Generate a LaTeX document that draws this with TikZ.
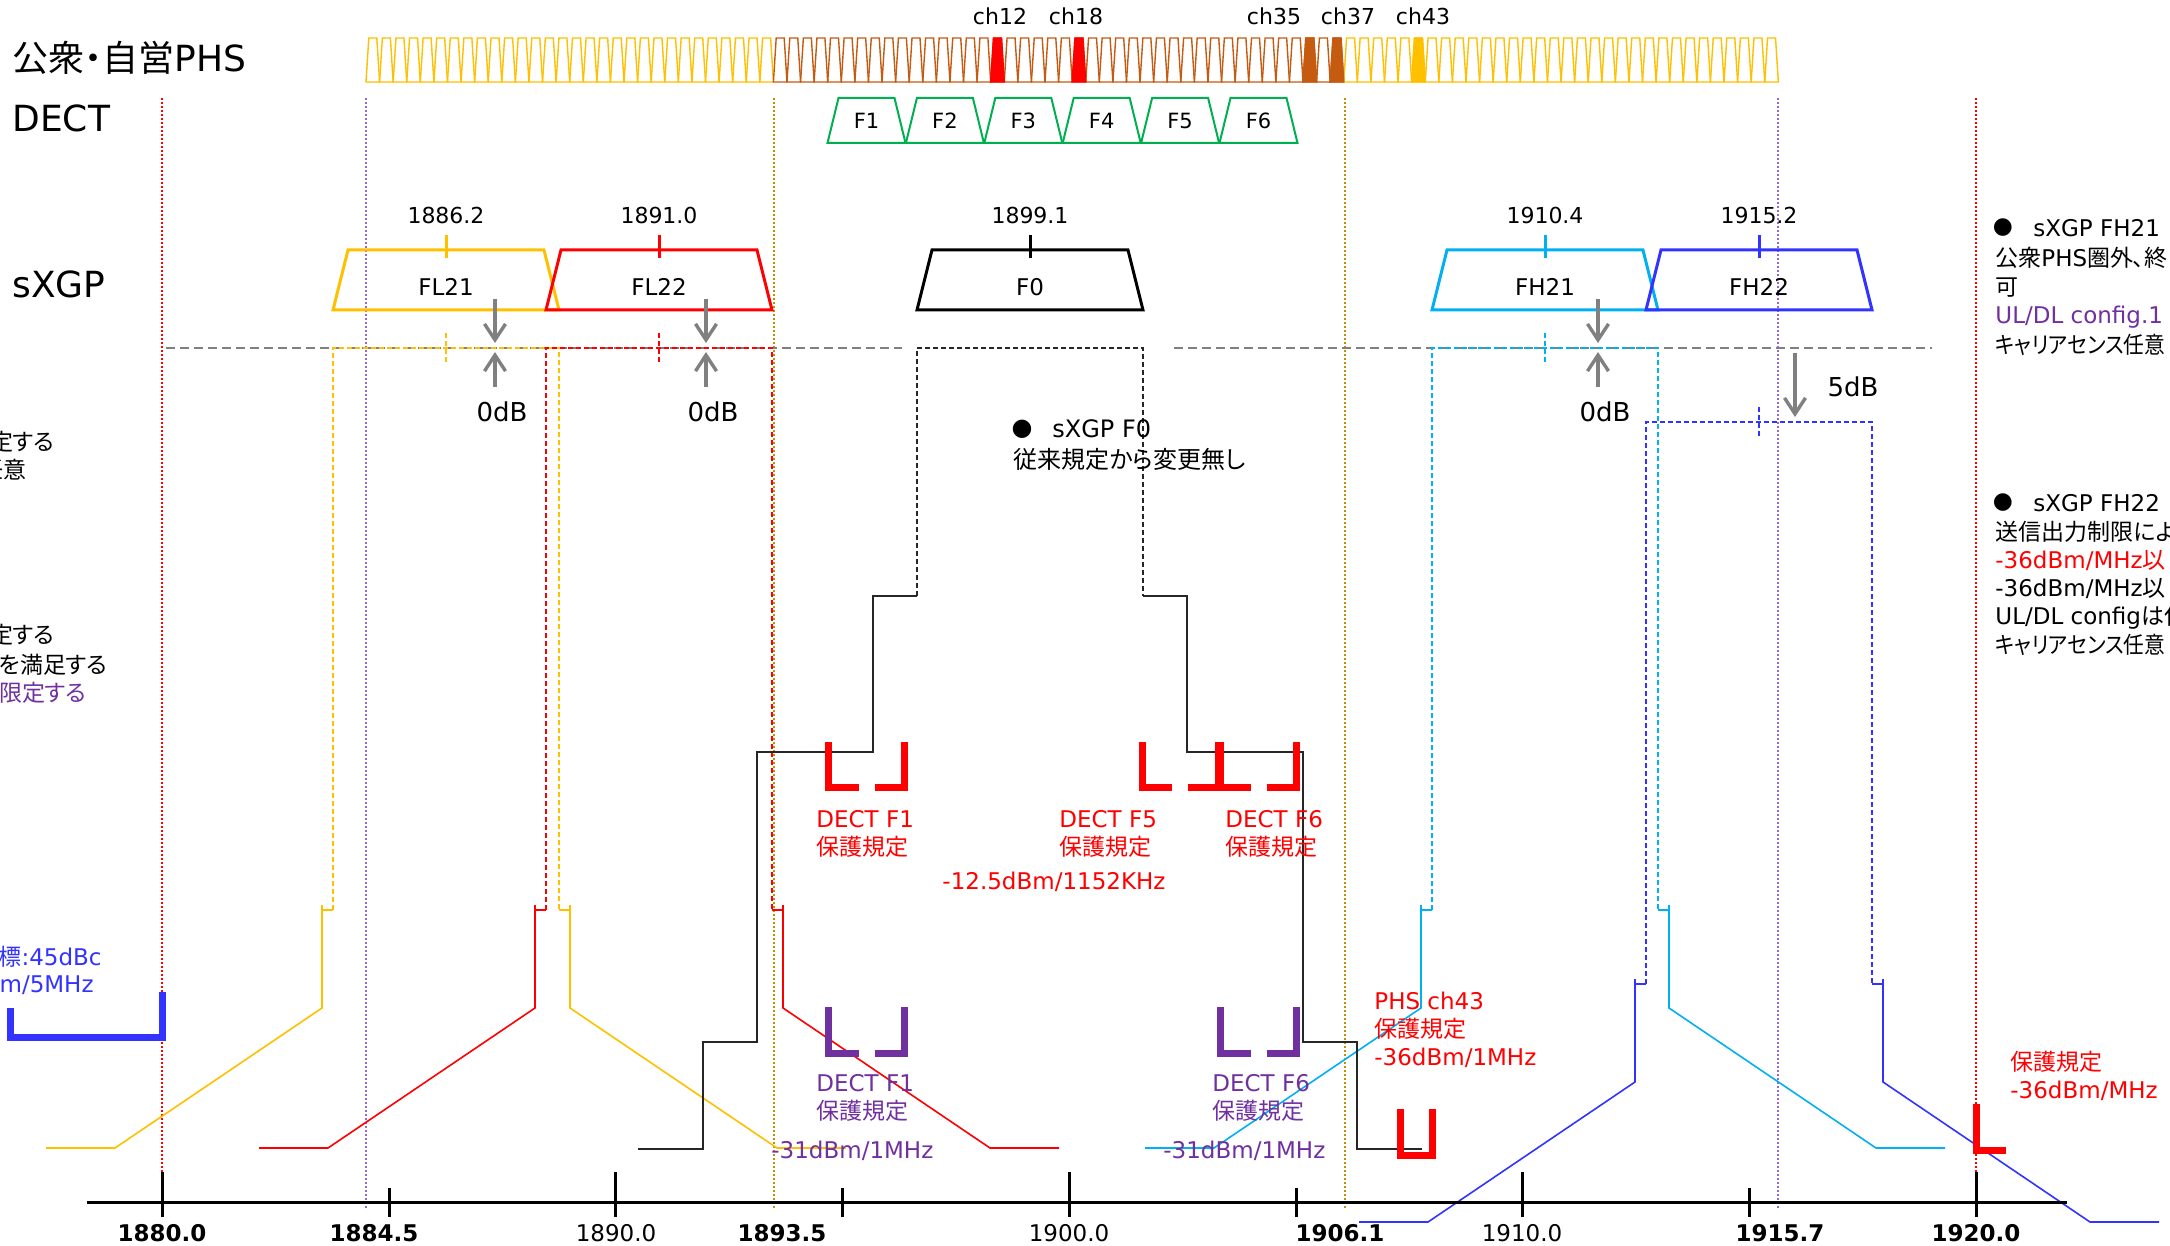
\documentclass[tikz,border=0pt]{standalone}
\usepackage{fontspec}
\setmainfont{DejaVu Sans}
\newfontfamily\jp[RawFeature=+palt]{Noto Sans CJK JP}
\newfontfamily\jpn[RawFeature=+palt,FakeStretch=0.9]{Noto Sans CJK JP}
\usetikzlibrary{arrows.meta}

\definecolor{phsyel}{HTML}{FFC000}
\definecolor{phsbrn}{HTML}{C55A11}
\definecolor{dectgrn}{HTML}{00B050}
\definecolor{fhcyan}{HTML}{00B0F0}
\definecolor{fhblue}{HTML}{3333FF}
\definecolor{cfgpurp}{HTML}{7030A0}
\definecolor{refgold}{HTML}{BF9000}
\definecolor{refpurp}{HTML}{9966CC}
\definecolor{dbgrey}{HTML}{808080}

\tikzset{
  lbl/.style={inner sep=0pt, font=\fontsize{11.5}{14}\selectfont},
  note/.style={lbl, align=left, anchor=west},
  biglbl/.style={inner sep=0pt, anchor=west, font=\fontsize{18}{22}\selectfont},
  chlbl/.style={inner sep=0pt, font=\fontsize{11}{13}\selectfont},
  axlbl/.style={inner sep=0pt, font=\fontsize{11.5}{14}\selectfont},
  tooth/.style={line width=0.7pt, line join=miter},
  band/.style={line width=1.5pt, line join=miter},
  mask/.style={line width=0.8pt},
  maskdash/.style={line width=0.7pt, dash pattern=on 2.5pt off 1.5pt},
  refline/.style={line width=0.6pt, dash pattern=on 1pt off 1pt},
  dbline/.style={dbgrey, line width=0.7pt, dash pattern=on 4.5pt off 2.5pt},
  prot/.style={line width=3.5pt, line join=miter},
  dbarrow/.style={dbgrey, line width=1.7pt, -{Straight Barb[length=8pt,width=10.5pt]}},
  axis/.style={line width=1.5pt},
}

\begin{document}
\begin{tikzpicture}[x=0.5pt,y=-0.5pt]
\useasboundingbox (0,0) rectangle (2170,1246);
\fill[white] (0,0) rectangle (2170,1246);
\clip (0,0) rectangle (2170,1246);

%% reference frequencies
\foreach \x/\col in {162/red, 1976/red, 366/refpurp, 1778/refpurp, 774/refgold, 1345/refgold}
  \draw[refline,color=\col] (\x,98) -- (\x,1208);

%% 0dB level
\draw[dbline] (166,348) -- (902,348);
\draw[dbline] (1174,348) -- (1932,348);

%% row titles
\node[biglbl,font=\fontsize{18}{21}\selectfont] (tphs) at (12,58) {{\jp 公衆・自営}PHS};
\node[biglbl] (tdect) at (12,118) {DECT};
\node[biglbl] (tsxgp) at (12,284) {sXGP};

%% PHS channels
\foreach \k in {0,...,103}{
  \pgfmathsetmacro\xa{366+13.58*\k}
  \ifnum\k<30 \def\tc{phsyel}\else\ifnum\k>71 \def\tc{phsyel}\else\def\tc{phsbrn}\fi\fi
  \draw[tooth,color=\tc] (\xa,82) -- ({\xa+2.8},38) -- ({\xa+10.8},38) -- ({\xa+13.58},82) -- cycle;
}
\foreach \k/\col in {46/red, 52/red, 69/phsbrn, 71/phsbrn, 77/phsyel}{
  \pgfmathsetmacro\xa{366+13.58*\k}
  \filldraw[tooth,color=\col] (\xa,82) -- ({\xa+2.8},38) -- ({\xa+10.8},38) -- ({\xa+13.58},82) -- cycle;
}
\node[chlbl] (ch12) at (1000,16) {ch12};
\node[chlbl] (ch18) at (1076,16) {ch18};
\node[chlbl] (ch35) at (1274,16) {ch35};
\node[chlbl] (ch37) at (1348,16) {ch37};
\node[chlbl] (ch43) at (1423,16) {ch43};

%% DECT carriers
\foreach \i in {1,...,6}{
  \pgfmathsetmacro\dc{866.5+78.4*(\i-1)}
  \draw[line width=1pt,dectgrn] ({\dc-39},143) -- ({\dc-28},98) -- ({\dc+28},98) -- ({\dc+39},143) -- cycle;
  \node[chlbl,font=\fontsize{10.5}{12}\selectfont] (dect\i) at (\dc,121) {F\i};
}

%% sXGP channels
\foreach \mc/\fq/\nm/\col in {446/1886.2/FL21/phsyel, 659/1891.0/FL22/red, 1030/1899.1/F0/black, 1545/1910.4/FH21/fhcyan, 1759/1915.2/FH22/fhblue}{
  \draw[band,color=\col] ({\mc-113},310) -- ({\mc-98},250) -- ({\mc+98},250) -- ({\mc+113},310) -- cycle;
  \draw[band,color=\col] (\mc,235) -- (\mc,258);
  \node[chlbl] (f\nm) at (\mc,215) {\fq};
  \node[lbl] (n\nm) at (\mc,287) {\nm};
}

%% masks
\foreach \mc/\dy/\col in {446/0/phsyel, 659/0/red, 1545/0/fhcyan, 1759/74/fhblue}{
  \draw[maskdash,color=\col] ({\mc-113},{910+\dy}) -- ({\mc-113},{348+\dy}) -- ({\mc+113},{348+\dy}) -- ({\mc+113},{910+\dy});
  \draw[maskdash,color=\col] (\mc,{333+\dy}) -- (\mc,{363+\dy});
  \draw[mask,color=\col] ({\mc-113},{910+\dy}) -- ({\mc-124},{910+\dy});
  \draw[mask,color=\col] ({\mc+113},{910+\dy}) -- ({\mc+124},{910+\dy});
  \draw[mask,color=\col] ({\mc-124},{905+\dy}) -- ({\mc-124},{1008+\dy}) -- ({\mc-331},{1148+\dy}) -- ({\mc-400},{1148+\dy});
  \draw[mask,color=\col] ({\mc+124},{905+\dy}) -- ({\mc+124},{1008+\dy}) -- ({\mc+331},{1148+\dy}) -- ({\mc+400},{1148+\dy});
}
\draw[maskdash,black!85] (917,596) -- (917,348) -- (1143,348) -- (1143,596);
\draw[mask,black!85] (638,1149) -- (703,1149) -- (703,1042) -- (757,1042) -- (757,752) -- (873,752) -- (873,596) -- (917,596);
\draw[mask,black!85] (1143,596) -- (1187,596) -- (1187,752) -- (1303,752) -- (1303,1042) -- (1357,1042) -- (1357,1149) -- (1422,1149);

%% level arrows
\foreach \x/\nm in {495/a, 706/b, 1598/c}{
  \coordinate (\nm1) at (\x,299);
  \coordinate (\nm2) at (\x,343);
  \coordinate (\nm3) at (\x,387);
  \coordinate (\nm4) at (\x,352);
  \draw[dbarrow] (\nm1) -- (\nm2);
  \draw[dbarrow] (\nm3) -- (\nm4);
  \node[lbl,font=\fontsize{13}{15}\selectfont] (db\nm) at (\x+7,412) {0dB};
}
\coordinate (d1) at (1795,353);
\coordinate (d2) at (1795,417);
\draw[dbarrow] (d1) -- (d2);
\node[lbl,font=\fontsize{13}{15}\selectfont] (db5) at (1853,387) {5dB};

%% F0 note
\node[lbl,font=\fontsize{12}{14}\selectfont] (bf0) at (1022,429) {●};
\node[note,font=\fontsize{12}{14}\selectfont] (nf0) at (1052,429) {sXGP F0};
\node[note,font=\fontsize{12}{14}\selectfont\jp] (nf0b) at (1013,459) {従来規定から変更無し};

%% DECT protection
\foreach \dc in {866.5, 1180, 1258.5}{
  \draw[prot,red] ({\dc-38},742) -- ({\dc-38},787) -- ({\dc-8},787);
  \draw[prot,red] ({\dc+8},787) -- ({\dc+38},787) -- ({\dc+38},742);
}
\node[note,red] (pf1) at (816,834) {DECT F1\\{\jp 保護規定}};
\node[note,red] (pf5) at (1059,834) {DECT F5\\{\jp 保護規定}};
\node[note,red] (pf6) at (1225,834) {DECT F6\\{\jp 保護規定}};
\node[lbl,red] (pdect) at (1054,882) {-12.5dBm/1152KHz};

\foreach \dc in {866.5, 1258.5}{
  \draw[prot,cfgpurp] ({\dc-38},1007) -- ({\dc-38},1053) -- ({\dc-8},1053);
  \draw[prot,cfgpurp] ({\dc+8},1053) -- ({\dc+38},1053) -- ({\dc+38},1007);
}
\node[note,cfgpurp] (qf1) at (816,1098) {DECT F1\\{\jp 保護規定}};
\node[note,cfgpurp] (qf1b) at (771,1151) {-31dBm/1MHz};
\node[note,cfgpurp] (qf6) at (1212,1098) {DECT F6\\{\jp 保護規定}};
\node[note,cfgpurp] (qf6b) at (1163,1151) {-31dBm/1MHz};

%% PHS ch43 and 1920 protection
\draw[prot,red] (1400,1109) -- (1400,1155) -- (1432,1155) -- (1432,1109);
\node[note,red] (pch43) at (1374,1030) {PHS ch43\\{\jp 保護規定}\\-36dBm/1MHz};
\draw[prot,red] (1976,1104) -- (1976,1150) -- (2006,1150);
\node[note,red] (p1920) at (2010,1076) {{\jp 保護規定}\\-36dBm/MHz};

%% 1880 side
\draw[prot,fhblue] (10,1008) -- (10,1037) -- (162,1037) -- (162,992);
\node[lbl,fhblue,anchor=east] (l45) at (102,957) {{\jp 標}:45dBc};
\node[lbl,fhblue,anchor=east] (l5m) at (94,985) {m/5MHz};
\node[lbl,anchor=east,font=\fontsize{11.5}{14}\selectfont\jp] (la1) at (55,442) {定する};
\node[lbl,anchor=east,font=\fontsize{11.5}{14}\selectfont\jp] (la2) at (27,470) {任意};
\node[lbl,anchor=east,font=\fontsize{11.5}{14}\selectfont\jp] (lb1) at (55,635) {定する};
\node[lbl,anchor=east,font=\fontsize{11.5}{14}\selectfont\jp] (lb2) at (108,665) {定を満足する};
\node[lbl,anchor=east,cfgpurp,font=\fontsize{11.5}{14}\selectfont\jp] (lb3) at (87,693) {限定する};

%% FH21 / FH22 notes
\node[lbl] (bh21) at (2003,228) {●};
\node[note] (h21) at (2033,228) {sXGP FH21};
\node[note] (h21a) at (1995,258) {{\jp 公衆}PHS{\jp 圏外、終}};
\node[note,font=\fontsize{11.5}{14}\selectfont\jp] (h21b) at (1995,288) {可};
\node[note,cfgpurp] (h21c) at (1995,317) {UL/DL config.1};
\node[note,font=\fontsize{11.5}{14}\selectfont\jpn] (h21d) at (1995,345) {キャリアセンス任意};
\node[lbl] (bh22) at (2003,503) {●};
\node[note] (h22) at (2033,503) {sXGP FH22};
\node[note,font=\fontsize{11.5}{14}\selectfont\jp] (h22a) at (1995,532) {送信出力制限によ};
\node[note,red] (h22b) at (1995,560) {-36dBm/MHz{\jp 以}};
\node[note] (h22c) at (1995,588) {-36dBm/MHz{\jp 以}};
\node[note] (h22d) at (1995,617) {UL/DL config{\jp は任}};
\node[note,font=\fontsize{11.5}{14}\selectfont\jpn] (h22e) at (1995,645) {キャリアセンス任意};

%% frequency axis
\coordinate (ax0) at (87,1202);
\coordinate (ax1) at (2067,1202);
\draw[axis] (ax0) -- (ax1);
\foreach \x in {162, 615.5, 1069, 1522, 1976} \draw[axis] (\x,1172) -- (\x,1217);
\foreach \x in {389, 842, 1296, 1749} \draw[axis] (\x,1188) -- (\x,1217);
\node[axlbl,font=\fontsize{11.5}{14}\selectfont\bfseries] (x1880) at (162,1233) {1880.0};
\node[axlbl,font=\fontsize{11.5}{14}\selectfont\bfseries] (x1884) at (374,1233) {1884.5};
\node[axlbl] (x1890) at (616,1233) {1890.0};
\node[axlbl,font=\fontsize{11.5}{14}\selectfont\bfseries] (x1893) at (782,1233) {1893.5};
\node[axlbl] (x1900) at (1069,1233) {1900.0};
\node[axlbl,font=\fontsize{11.5}{14}\selectfont\bfseries] (x1906) at (1340,1233) {1906.1};
\node[axlbl] (x1910) at (1522,1233) {1910.0};
\node[axlbl,font=\fontsize{11.5}{14}\selectfont\bfseries] (x1915) at (1780,1233) {1915.7};
\node[axlbl,font=\fontsize{11.5}{14}\selectfont\bfseries] (x1920) at (1976,1233) {1920.0};
\end{tikzpicture}
\end{document}
